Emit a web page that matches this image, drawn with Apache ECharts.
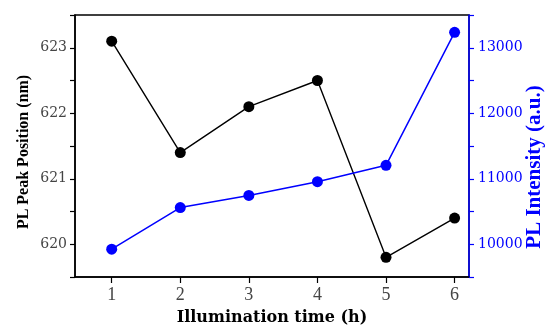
<!DOCTYPE html>
<html><head><meta charset="utf-8">
<script src="https://cdn.jsdelivr.net/npm/echarts@6/dist/echarts.min.js"></script>
<style>html,body{margin:0;padding:0;background:#fff}#c{width:547px;height:325px}</style>
</head><body><div id="c"></div>
<script>
const hours = [1, 2, 3, 4, 5, 6];
const peakPosition = [623.1, 621.4, 622.1, 622.5, 619.8, 620.4];
const intensity = [9925, 10560, 10745, 10955, 11205, 13235];
const xTicks = [1, 2, 3, 4, 5, 6];

const chart = echarts.init(document.getElementById('c'));
const serif = '"Liberation Serif", "DejaVu Serif", serif';
const wideSerif = '"DejaVu Serif", serif';
chart.setOption({
  animation: false,
  grid: {left: 75, right: 78, top: 15, bottom: 48, show: true, borderColor: '#000', borderWidth: 1.5,
    outerBoundsMode: 'none', containLabel: false},
  xAxis: {
    type: 'value', min: 0.465, max: 6.21,
    name: 'Illumination time (h)', nameLocation: 'middle', nameGap: 33,
    nameTextStyle: {fontFamily: wideSerif, fontWeight: 'bold', fontSize: 16, color: '#000'},
    axisLine: {lineStyle: {color: '#000', width: 1.5}},
    axisTick: {show: true, length: 6, customValues: xTicks, lineStyle: {color: '#000', width: 1.2}},
    axisLabel: {customValues: xTicks, fontFamily: serif, fontSize: 18, color: '#444', margin: 9},
    splitLine: {show: false}
  },
  yAxis: [{
    type: 'value', min: 619.5, max: 623.5, interval: 0.5, position: 'left',
    name: 'PL Peak Position (nm)', nameLocation: 'middle', nameGap: 43, nameRotate: 90, nameMoveOverlap: false,
    nameTextStyle: {fontFamily: serif, fontWeight: 'bold', fontSize: 16, color: '#000', padding: [0, 12, 0, 0]},
    axisLine: {show: true, lineStyle: {color: '#000', width: 1.5}},
    axisTick: {show: true, length: 5, lineStyle: {color: '#000', width: 1.2}},
    axisLabel: {fontFamily: wideSerif, fontSize: 14, color: '#444', margin: 8,
      formatter: v => (Math.abs(v - Math.round(v)) < 1e-6 ? String(Math.round(v)) : '')},
    splitLine: {show: false}
  }, {
    type: 'value', min: 9500, max: 13500, interval: 500, position: 'right',
    name: 'PL Intensity (a.u.)', nameLocation: 'middle', nameGap: 55, nameRotate: 90, nameMoveOverlap: false,
    nameTextStyle: {fontFamily: serif, fontWeight: 'bold', fontSize: 21, color: '#0000ff', padding: [0, 42, 0, 0]},
    axisLine: {show: true, lineStyle: {color: '#0000ff', width: 1.5}},
    axisTick: {show: true, length: 5, lineStyle: {color: '#0000ff', width: 1.2}},
    axisLabel: {fontFamily: wideSerif, fontSize: 14, color: '#0000ff', margin: 9,
      formatter: v => (v % 1000 === 0 ? String(v) : '')},
    splitLine: {show: false}
  }],
  series: [{
    type: 'line', yAxisIndex: 0,
    data: hours.map((h, i) => [h, peakPosition[i]]),
    symbol: 'circle', symbolSize: 11,
    lineStyle: {color: '#000', width: 1.4},
    itemStyle: {color: '#000'}
  }, {
    type: 'line', yAxisIndex: 1,
    data: hours.map((h, i) => [h, intensity[i]]),
    symbol: 'circle', symbolSize: 11,
    lineStyle: {color: '#0000ff', width: 1.5},
    itemStyle: {color: '#0000ff'}
  }]
});
</script></body></html>
